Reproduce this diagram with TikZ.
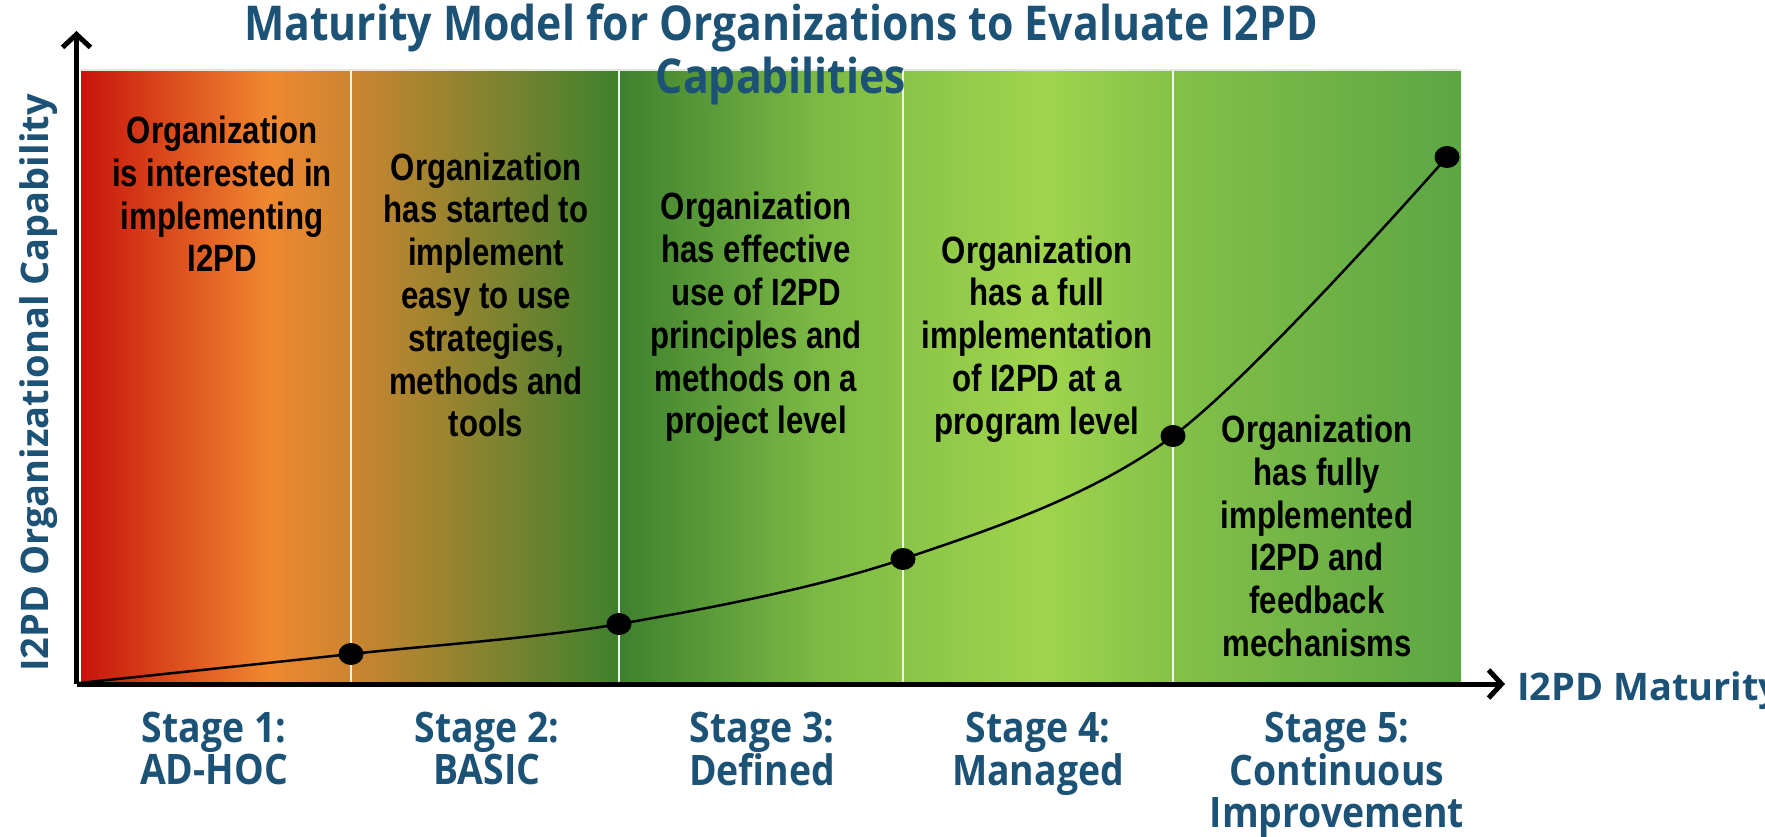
\documentclass[tikz,border=0pt]{standalone}
\usepackage{fontspec}
\setmainfont{Liberation Sans}
\newfontfamily\headfont{Open Sans}[FakeStretch=0.89]
\newfontfamily\axisfont{Open Sans}
\newfontfamily\narrowfont{Liberation Sans}[FakeStretch=0.82]
\usetikzlibrary{arrows.meta,shapes.geometric}

\definecolor{navy}{HTML}{1C5275}
\definecolor{cRed}{HTML}{C8140C}
\definecolor{cOrange}{HTML}{F08830}
\definecolor{cTan}{HTML}{CC8530}
\definecolor{cDark}{HTML}{3E812E}
\definecolor{cMid}{HTML}{7DBA45}
\definecolor{cLight}{HTML}{A0D44C}
\definecolor{cSoft}{HTML}{80BE48}
\definecolor{cEnd}{HTML}{5CA643}

% path box is mapped to 25bp..75bp
\pgfdeclarehorizontalshading{maturity}{100bp}{color(0bp)=(cRed); color(25bp)=(cRed);
  color(31.8bp)=(cOrange); color(34.8bp)=(cTan); color(44.5bp)=(cDark);
  color(51.8bp)=(cMid); color(59.8bp)=(cLight); color(65.5bp)=(cSoft);
  color(75bp)=(cEnd); color(100bp)=(cEnd)}

\tikzset{
  stagetext/.style={align=center, inner sep=0pt, text=black,
    font=\narrowfont\bfseries\fontsize{38}{42.8}\selectfont},
  stagename/.style={align=center, inner sep=0pt, text=navy, anchor=north,
    font=\headfont\bfseries\fontsize{42}{41.5}\selectfont},
  stagedot/.style={ellipse, fill=black, minimum width=25pt, minimum height=22pt, inner sep=0pt},
  axisline/.style={line width=5pt, -{Straight Barb[length=13pt,width=28pt,line width=5pt]}},
  axislabel/.style={inner sep=0pt, text=navy, font=\axisfont\bfseries\fontsize{38}{44}\selectfont},
}

\begin{document}
\begin{tikzpicture}[x=1pt,y=-1pt]
  \useasboundingbox (0,0) rectangle (1765,836);
  % Shading first
  \shade[shading=maturity] (81,70) rectangle (1461,682);
  \draw[gray!20, line width=2pt] (81,70) -- (1461,70);
  % stage borders
  \foreach \x in {351,619,903,1173}
    \draw[white!90!gray, line width=2pt] (\x,71) -- (\x,682);

  % Axes
  \coordinate (o) at (76.5,684);
  \coordinate (ytip) at (76.5,31);
  \coordinate (xtip) at (1505,684);
  \draw[axisline] (o) -- (ytip);
  \draw[axisline] (o) -- (xtip);

  % Curve and dots
  \coordinate (c0) at (79,683);
  \node[stagedot] (d1) at (351,654) {};
  \node[stagedot] (d2) at (619,624) {};
  \node[stagedot] (d3) at (903,559) {};
  \node[stagedot] (d4) at (1173,436) {};
  \node[stagedot] (d5) at (1447,157) {};
  \draw[line width=2.5pt] plot[smooth, tension=0.55] coordinates {(c0) (d1) (d2) (d3) (d4) (d5)};

  % Texts in the stages
  \node[stagetext] (t1) at (222,194) {Organization\\is interested in\\implementing\\I2PD};
  \node[stagetext] (t2) at (486,295) {Organization\\has started to\\implement\\easy to use\\strategies,\\methods and\\tools};
  \node[stagetext] (t3) at (756,317) {Organization\\has effective\\use of I2PD\\principles and\\methods on a\\project level};
  \node[stagetext] (t4) at (1037,339) {Organization\\has a full\\implementation\\of I2PD at a\\program level};
  \node[stagetext] (t5) at (1317,536) {Organization\\has fully\\implemented\\I2PD and\\feedback\\mechanisms};

  % Stage names
  \node[stagename] (s1) at (214,712) {Stage 1:\\AD-HOC};
  \node[stagename] (s2) at (487,712) {Stage 2:\\BASIC};
  \node[stagename] (s3) at (762,712) {Stage 3:\\Defined};
  \node[stagename] (s4) at (1038,712) {Stage 4:\\Managed};
  \node[stagename] (s5) at (1337,712) {Stage 5:\\Continuous\\Improvement};

  % Title and axis labels
  \node[align=center, inner sep=0pt, text=navy, font=\headfont\bfseries\fontsize{48}{53}\selectfont]
    (title) at (781,54) {Maturity Model for Organizations to Evaluate I2PD\\Capabilities};
  \node[axislabel, rotate=90] (ylab) at (39,383) {I2PD Organizational Capability};
  \node[axislabel, anchor=west] (xlab) at (1517,691) {I2PD Maturity};
\end{tikzpicture}
\end{document}
